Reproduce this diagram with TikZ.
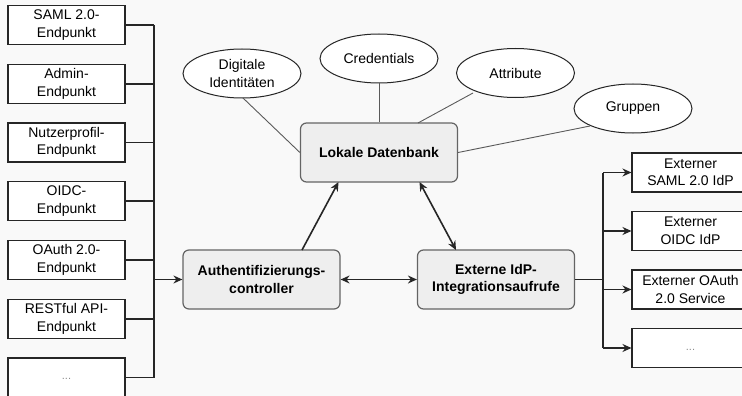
\documentclass[tikz,border=0pt]{standalone}
\usepackage{fontspec}
\setmainfont{Liberation Sans}
\usetikzlibrary{arrows.meta,shapes.geometric}
\definecolor{bgc}{RGB}{249,249,249}
\definecolor{procfill}{RGB}{238,238,238}
\definecolor{procdraw}{RGB}{100,100,100}
\definecolor{thinline}{RGB}{90,90,90}
\tikzset{
  txt/.style={font=\fontsize{14}{17.5}\selectfont, align=center, inner sep=0pt},
  epbox/.style={txt, draw=black!85, fill=white, line width=1.1pt,
                minimum width=117pt, minimum height=39pt},
  procbox/.style={txt, font=\fontsize{14}{17.5}\selectfont\bfseries, draw=procdraw,
                  fill=procfill, rounded corners=6pt, line width=1.2pt,
                  minimum width=157pt, minimum height=59pt},
  attr/.style={txt, ellipse, draw=black!85, fill=white, line width=1pt,
               minimum width=118pt, minimum height=49pt},
  link/.style={draw=thinline, line width=0.9pt},
  bus/.style={draw=black!85, line width=1.6pt},
  arr/.style={bus, -{Stealth[length=9pt,width=8pt]}},
  darr/.style={bus, {Stealth[length=9pt,width=8pt]}-{Stealth[length=9pt,width=8pt]}},
  dots/.style={txt, font=\fontsize{11}{13}\selectfont, text=black!45}
}
\begin{document}
\begin{tikzpicture}[x=1pt,y=-1pt]
  % canvas
  \fill[bgc] (0,0) rectangle (742,396);
  \useasboundingbox (0,0) rectangle (742,396);
  \clip (0,0) rectangle (742,396);

  % inbound endpoints
  \node[epbox] (l1) at (66.5,25)     {SAML 2.0-\\Endpunkt};
  \node[epbox] (l2) at (66.5,83.75)  {Admin-\\Endpunkt};
  \node[epbox] (l3) at (66.5,142.5)  {Nutzerprofil-\\Endpunkt};
  \node[epbox] (l4) at (66.5,201.25) {OIDC-\\Endpunkt};
  \node[epbox] (l5) at (66.5,260)    {OAuth 2.0-\\Endpunkt};
  \node[epbox] (l6) at (66.5,318.75) {RESTful API-\\Endpunkt};
  \node[epbox] (l7) at (66.5,377.5)  {};
  \node[dots] (l7t) at (66.5,379) {...};

  % core components
  \node[procbox] (auth) at (261.5,279.5) {Authentifizierungs-\\controller};
  \node[procbox] (ext)  at (496,279.5)   {Externe IdP-\\Integrationsaufrufe};
  \node[procbox] (db)   at (379,152.5)   {Lokale Datenbank};

  % stored data
  \node[attr] (dig)  at (242,73.5)   {Digitale\\Identitäten};
  \node[attr] (cred) at (379,58.5)   {Credentials};
  \node[attr] (att)  at (515.5,73)   {Attribute};
  \node[attr] (grp)  at (633,108.5)  {Gruppen};

  % external providers
  \node[epbox] (r1) at (690.5,172.5) {Externer\\SAML 2.0 IdP};
  \node[epbox] (r2) at (690.5,231)   {Externer\\OIDC IdP};
  \node[epbox] (r3) at (690.5,289.5) {Externer OAuth\\2.0 Service};
  \node[epbox] (r4) at (690.5,348)   {};
  \node[dots] (r4t) at (690.5,350) {...};

  % data links
  \draw[link] (243,98) -- (db.west);
  \draw[link] (cred.south) -- (db.north);
  \draw[link] (473,93) -- (418,123);
  \draw[link] (590,126) -- (db.east);

  % inbound bus
  \coordinate (lbt) at (154,25);
  \coordinate (lbb) at (154,377.5);
  \foreach \n in {l1,l2,l3,l4,l5,l6,l7} {
    \draw[bus] (\n.east) -- (\n.east -| lbt);
  }
  \draw[bus] (lbt) -- (lbb);
  \draw[arr] (lbt |- auth.west) -- (auth.west);

  % core connectors
  \draw[darr] (auth.east) -- (ext.west);
  \draw[arr] (302,250) -- (338.5,182);
  \draw[darr] (419.5,182) -- (456,250);

  % outbound bus
  \coordinate (rbt) at (603,172.5);
  \coordinate (rbb) at (603,348);
  \draw[bus] (ext.east) -- (ext.east -| rbt);
  \draw[bus] (rbt) -- (rbb);
  \foreach \n in {r1,r2,r3,r4} {
    \draw[arr] (\n.west -| rbt) -- (\n.west);
  }
\end{tikzpicture}
\end{document}
